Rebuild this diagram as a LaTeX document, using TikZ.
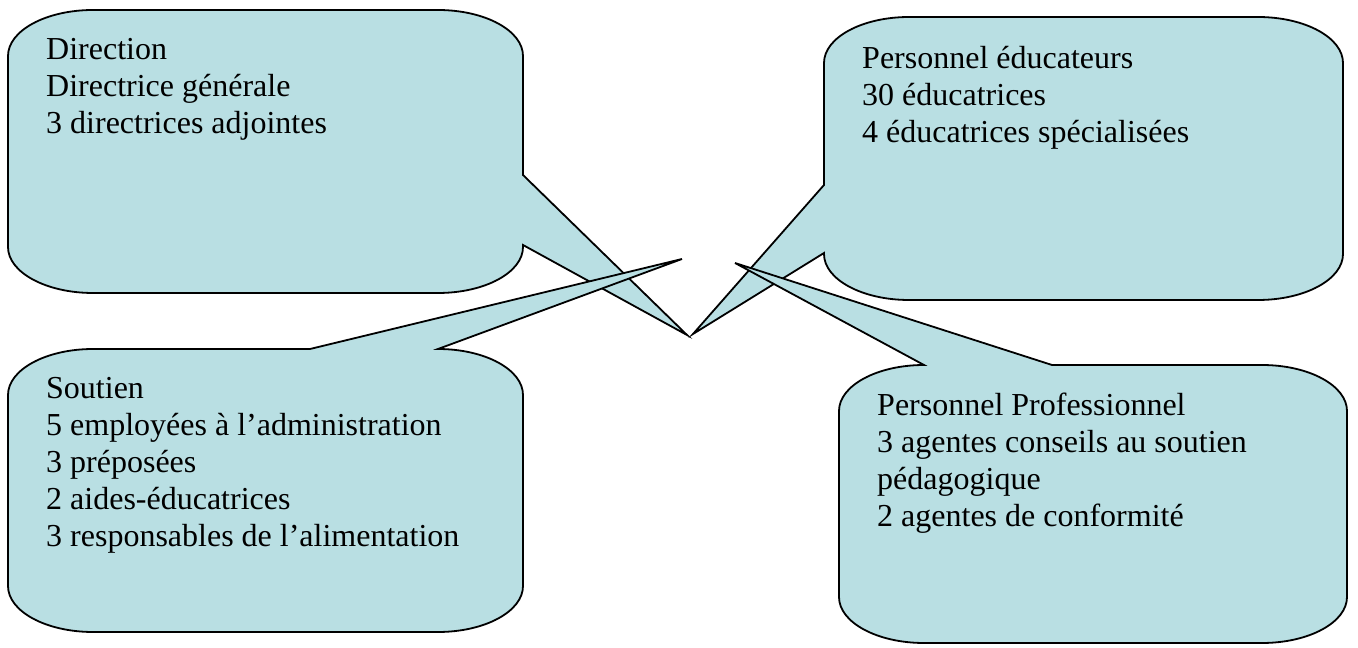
\documentclass[tikz,border=0pt]{standalone}
\usepackage{fontspec}
\setmainfont{Liberation Serif}
\definecolor{bleubulle}{RGB}{185,223,227}
\tikzset{
  bulle/.style = {fill=bleubulle, draw=black, line width=1.8pt},% bulle, contour noir
  texte/.style = {anchor=north west, inner sep=0pt, align=left,
    font=\fontsize{32}{37}\selectfont}% texte dans la bulle
}

\begin{document}
\begin{tikzpicture}[x=1pt,y=1pt]
\useasboundingbox (0,0) rectangle (1358,648);
\coordinate (pointe_dir) at (687,313);
\coordinate (pointe_edu) at (693,314);
\coordinate (pointe_sou) at (682,389);
\coordinate (pointe_pro) at (735,385);
% Direction
\draw [bulle] (523,473) -- (pointe_dir) -- (523,403) -- (523,401)
  arc[start angle=0, end angle=-90, x radius=85pt, y radius=46pt] -- (93,355)
  arc[start angle=270, end angle=180, x radius=85pt, y radius=46pt] -- (8,592)
  arc[start angle=180, end angle=90, x radius=85pt, y radius=46pt] -- (438,638)
  arc[start angle=90, end angle=0, x radius=85pt, y radius=46pt] -- cycle;
% Personnel educateurs
\draw [bulle] (824,463) -- (pointe_edu) -- (824,395) -- (824,394)
  arc[start angle=180, end angle=270, x radius=85pt, y radius=46pt] -- (1258,348)
  arc[start angle=270, end angle=360, x radius=85pt, y radius=46pt] -- (1343,585)
  arc[start angle=0, end angle=90, x radius=85pt, y radius=46pt] -- (909,631)
  arc[start angle=90, end angle=180, x radius=85pt, y radius=46pt] -- cycle;
% Soutien
\draw [bulle] (310,299) -- (pointe_sou) -- (438,299)
  arc[start angle=90, end angle=0, x radius=85pt, y radius=46pt] -- (523,62)
  arc[start angle=0, end angle=-90, x radius=85pt, y radius=46pt] -- (93,16)
  arc[start angle=270, end angle=180, x radius=85pt, y radius=46pt] -- (8,253)
  arc[start angle=180, end angle=90, x radius=85pt, y radius=46pt] -- cycle;
% Personnel professionnel
\draw [bulle] (1052,283) -- (pointe_pro) -- (924,283)
  arc[start angle=90, end angle=180, x radius=85pt, y radius=46pt] -- (839,51)
  arc[start angle=180, end angle=270, x radius=85pt, y radius=46pt] -- (1262,5)
  arc[start angle=270, end angle=360, x radius=85pt, y radius=46pt] -- (1347,237)
  arc[start angle=0, end angle=90, x radius=85pt, y radius=46pt] -- cycle;

\node [texte] (direction) at (46,610)
  {Direction\\Directrice générale\\3 directrices adjointes};
\node [texte] (educateurs) at (862,602)
  {Personnel éducateurs\\30 éducatrices\\4 éducatrices spécialisées};
\node [texte] (soutien) at (46,271)
  {Soutien\\5 employées à l’administration\\3 préposées\\2 aides-éducatrices\\3 responsables de l’alimentation};
\node [texte] (professionnel) at (877,255)
  {Personnel Professionnel\\3 agentes conseils au soutien\\pédagogique\\2 agentes de conformité};
\end{tikzpicture}
\end{document}
